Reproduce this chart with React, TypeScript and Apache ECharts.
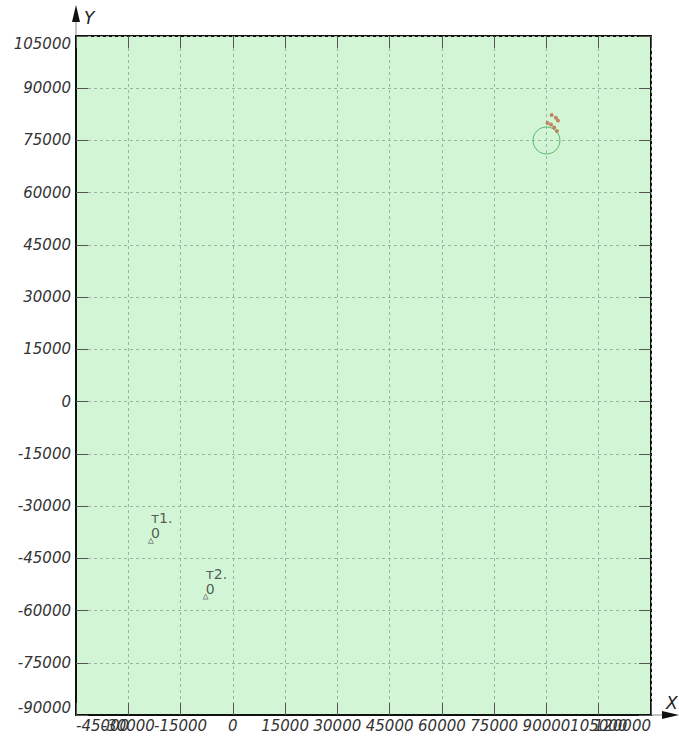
import React, { useEffect, useRef } from "react";
import * as echarts from "echarts";

const X_MIN = -45000;
const X_MAX = 120000;
const Y_MIN = -90000;
const Y_MAX = 105000;
const TICK_STEP = 15000;
// labels drawn on an overlay axis (ECharts would hide them next to min/max)
const X_OVERLAP_LABELS = [-30000, 105000];

const pointNames = ["т1.\n0", "т2.\n0"];
const pointX = [-23500, -7800];
const pointY = [-40000, -56000];

const circleX = [90000];
const circleY = [75000];

const clusterX = [91500, 92700, 93300, 90300, 91300, 92200, 93000];
const clusterY = [82300, 81500, 80700, 80000, 79600, 78700, 77700];

const FONT = "DejaVu Sans";

export default function App() {
  const ref = useRef<HTMLDivElement>(null);
  useEffect(() => {
    document.body.style.margin = "0";
    document.body.style.overflow = "hidden";
    const chart = echarts.init(ref.current!, null, { renderer: "svg" });
    const gridLine = {
      show: true,
      lineStyle: { color: "#9db59f", type: [3, 3] as any, width: 1 },
    };
    const ticks = { show: true, inside: true, length: 12, lineStyle: { color: "#555", width: 1 } };
    const labelStyle = {
      color: "#333",
      fontFamily: FONT,
      fontStyle: "italic" as const,
      fontSize: 15,
    };
    chart.setOption({
      animation: false,
      grid: {
        left: 76,
        top: 36,
        right: 28,
        bottom: 26,
        show: true,
        backgroundColor: "#d1f5d5",
        borderColor: "#111",
        borderWidth: 2,
      },
      xAxis: [
        {
          type: "value",
          min: X_MIN,
          max: X_MAX,
          interval: TICK_STEP,
          position: "bottom",
          axisLine: { show: true, onZero: false, lineStyle: { color: "#111", width: 2 } },
          axisTick: ticks,
          splitLine: gridLine,
          axisLabel: {
            ...labelStyle,
            margin: 3,
            showMinLabel: true,
            showMaxLabel: true,
            alignMinLabel: "left",
            alignMaxLabel: "right",
            formatter: (v: number) => (X_OVERLAP_LABELS.includes(v) ? "" : String(v)),
          },
        },
        {
          type: "value",
          min: X_MIN,
          max: X_MAX,
          interval: TICK_STEP,
          position: "bottom",
          axisLine: { show: false, onZero: false },
          axisTick: { show: false },
          splitLine: { show: false },
          axisLabel: {
            ...labelStyle,
            margin: 3,
            showMinLabel: false,
            showMaxLabel: false,
            formatter: (v: number) => (X_OVERLAP_LABELS.includes(v) ? String(v) : ""),
          },
        },
        {
          type: "value",
          min: X_MIN,
          max: X_MAX,
          interval: TICK_STEP,
          position: "top",
          axisLine: { show: false, onZero: false },
          axisTick: ticks,
          splitLine: { show: false },
          axisLabel: { show: false },
        },
      ],
      yAxis: [
        {
          type: "value",
          min: Y_MIN,
          max: Y_MAX,
          interval: TICK_STEP,
          position: "left",
          axisLine: { show: true, onZero: false, lineStyle: { color: "#111", width: 2 } },
          axisTick: ticks,
          splitLine: gridLine,
          axisLabel: {
            ...labelStyle,
            margin: 5,
            showMinLabel: true,
            showMaxLabel: true,
            verticalAlignMinLabel: "bottom",
            verticalAlignMaxLabel: "top",
            formatter: (v: number) => String(v),
          },
        },
        {
          type: "value",
          min: Y_MIN,
          max: Y_MAX,
          interval: TICK_STEP,
          position: "right",
          axisLine: { show: false, onZero: false },
          axisTick: ticks,
          splitLine: { show: false },
          axisLabel: { show: false },
        },
      ],
      series: [
        {
          type: "scatter",
          data: pointX.map((x, i) => ({ value: [x, pointY[i]], name: pointNames[i] })),
          symbol: "triangle",
          symbolSize: 5,
          itemStyle: { color: "rgba(0,0,0,0)", borderColor: "#777", borderWidth: 1 },
          label: {
            show: true,
            formatter: "{b}",
            position: "top",
            align: "left",
            verticalAlign: "bottom",
            distance: 0,
            offset: [0, 3],
            fontFamily: FONT,
            fontSize: 14,
            lineHeight: 15,
            color: "#333",
          },
        },
        {
          type: "scatter",
          data: circleX.map((x, i) => [x, circleY[i]]),
          symbol: "circle",
          symbolSize: 27,
          itemStyle: { color: "rgba(0,0,0,0)", borderColor: "#3fae55", borderWidth: 1 },
        },
        {
          type: "scatter",
          data: clusterX.map((x, i) => [x, clusterY[i]]),
          symbol: "circle",
          symbolSize: 4,
          itemStyle: { color: "#c06a45" },
        },
      ],
      graphic: [
        {
          type: "line",
          shape: { x1: 76, y1: 36, x2: 76, y2: 12 },
          style: { stroke: "#888", lineWidth: 1 },
        },
        {
          type: "polygon",
          shape: { points: [[76, 5], [72, 22], [80, 22]] },
          style: { fill: "#111" },
        },
        {
          type: "line",
          shape: { x1: 651, y1: 715, x2: 668, y2: 715 },
          style: { stroke: "#888", lineWidth: 1 },
        },
        {
          type: "polygon",
          shape: { points: [[679, 715], [662, 711], [662, 719]] },
          style: { fill: "#111" },
        },
        {
          type: "text",
          x: 84,
          y: 18,
          style: {
            text: "Y",
            fontFamily: FONT,
            fontStyle: "italic",
            fontSize: 17,
            fill: "#222",
            verticalAlign: "middle",
          },
        },
        {
          type: "text",
          x: 666,
          y: 703,
          style: {
            text: "X",
            fontFamily: FONT,
            fontStyle: "italic",
            fontSize: 17,
            fill: "#222",
            verticalAlign: "middle",
          },
        },
      ],
    });
    return () => chart.dispose();
  }, []);
  return <div ref={ref} style={{ width: 679, height: 741 }} />;
}
